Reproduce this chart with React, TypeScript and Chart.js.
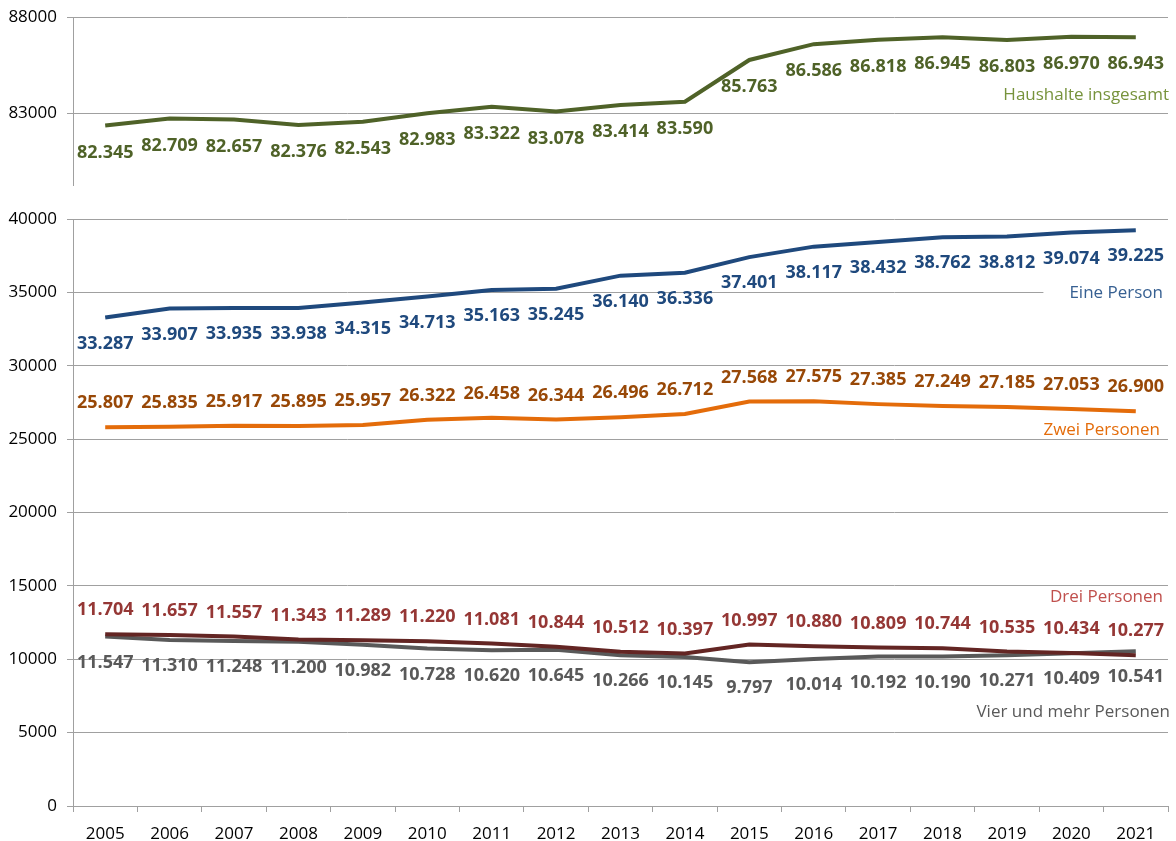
import React, { useEffect, useRef } from "react";
import { Chart, registerables } from "chart.js";

Chart.register(...registerables);

const years = ["2005","2006","2007","2008","2009","2010","2011","2012","2013","2014","2015","2016","2017","2018","2019","2020","2021"];

const haushalteInsgesamt = [82345, 82709, 82657, 82376, 82543, 82983, 83322, 83078, 83414, 83590, 85763, 86586, 86818, 86945, 86803, 86970, 86943];
const einePerson = [33287, 33907, 33935, 33938, 34315, 34713, 35163, 35245, 36140, 36336, 37401, 38117, 38432, 38762, 38812, 39074, 39225];
const zweiPersonen = [25807, 25835, 25917, 25895, 25957, 26322, 26458, 26344, 26496, 26712, 27568, 27575, 27385, 27249, 27185, 27053, 26900];
const dreiPersonen = [11704, 11657, 11557, 11343, 11289, 11220, 11081, 10844, 10512, 10397, 10997, 10880, 10809, 10744, 10535, 10434, 10277];
const vierUndMehr = [11547, 11310, 11248, 11200, 10982, 10728, 10620, 10645, 10266, 10145, 9797, 10014, 10192, 10190, 10271, 10409, 10541];

const topTicks = [83000, 88000];
const bottomTicks = [0, 5000, 10000, 15000, 20000, 25000, 30000, 35000, 40000];

const FONT = "'Open Sans', 'Noto Sans', sans-serif";
const GRID = "#a0a0a0";

function fmt(v: number): string {
  return String(v).replace(/\B(?=(\d{3})+(?!\d))/g, ".");
}

const valueLabelPlugin = {
  id: "valueLabels",
  afterDatasetsDraw(chart: any) {
    const ctx = chart.ctx;
    ctx.save();
    ctx.font = `bold 18px ${FONT}`;
    ctx.textAlign = "center";
    ctx.textBaseline = "middle";
    chart.data.datasets.forEach((ds: any, i: number) => {
      const meta = chart.getDatasetMeta(i);
      ctx.fillStyle = ds.labelColor;
      meta.data.forEach((pt: any, j: number) => {
        ctx.fillText(fmt(ds.data[j]), pt.x, pt.y + ds.labelOffset);
      });
    });
    const names = chart.options.plugins.seriesNames || [];
    const yScale = chart.scales.y;
    names.forEach((n: any) => {
      ctx.font = `17px ${FONT}`;
      ctx.textAlign = "right";
      const y = yScale.getPixelForValue(n.value);
      const x = chart.chartArea.right - n.inset;
      if (n.box) {
        const w = ctx.measureText(n.text).width;
        ctx.fillStyle = "#ffffff";
        ctx.fillRect(x - w - 26, y - 11, w + 32, 22);
      }
      ctx.fillStyle = n.color;
      ctx.fillText(n.text, x, y);
    });
    ctx.restore();
  },
};

export default function App() {
  const topRef = useRef<HTMLCanvasElement>(null);
  const botRef = useRef<HTMLCanvasElement>(null);

  useEffect(() => {
    Chart.defaults.font.family = FONT;
    const line = (data: number[], color: string, labelColor: string, labelOffset: number, order: number) => ({
      data,
      borderColor: color,
      backgroundColor: color,
      borderWidth: 4,
      pointRadius: 0,
      tension: 0,
      labelColor,
      labelOffset,
      order,
    });
    const tickFont = { size: 17, family: FONT };
    const plainTick = (v: any) => String(v);
    const fitY = (s: any) => { s.width = 73; s.paddingTop = 0; s.paddingBottom = 0; };

    const topChart = new Chart(topRef.current!, {
      type: "line",
      data: {
        labels: years,
        datasets: [line(haushalteInsgesamt, "#4f6228", "#4f6228", 27, 0) as any],
      },
      options: {
        animation: false,
        responsive: false,
        layout: { autoPadding: false, padding: { left: 0, right: 8, top: 17, bottom: 15 } },
        plugins: {
          legend: { display: false },
          tooltip: { enabled: false },
          seriesNames: [{ text: "Haushalte insgesamt", value: 83938, color: "#77933c", inset: -1 }],
        } as any,
        scales: {
          x: { display: false, offset: true },
          y: {
            min: 79250,
            max: 88000,
            afterBuildTicks: (s: any) => { s.ticks = topTicks.map((v) => ({ value: v })); },
            afterFit: fitY,
            ticks: { color: "#000", font: tickFont, padding: 10, autoSkip: false, callback: plainTick },
            grid: { color: GRID, lineWidth: 1, tickLength: 6 },
            border: { display: true, color: GRID, width: 1 },
          },
        },
      },
      plugins: [valueLabelPlugin],
    });

    const botChart = new Chart(botRef.current!, {
      type: "line",
      data: {
        labels: years,
        datasets: [
          line(einePerson, "#1f497d", "#1f497d", 26, 4) as any,
          line(zweiPersonen, "#e46c0a", "#984807", -24, 3) as any,
          line(vierUndMehr, "#595959", "#595959", 26, 2) as any,
          line(dreiPersonen, "#632523", "#953735", -24, 1) as any,
        ],
      },
      options: {
        animation: false,
        responsive: false,
        layout: { autoPadding: false, padding: { left: 0, right: 8, top: 19, bottom: 0 } },
        plugins: {
          legend: { display: false },
          tooltip: { enabled: false },
          seriesNames: [
            { text: "Eine Person", value: 34957, color: "#376092", inset: 5, box: true },
            { text: "Zwei Personen", value: 25622, color: "#e46c0a", inset: 8 },
            { text: "Drei Personen", value: 14243, color: "#c0504d", inset: 5 },
            { text: "Vier und mehr Personen", value: 6407, color: "#595959", inset: -2 },
          ],
        } as any,
        scales: {
          x: {
            offset: true,
            afterFit: (s: any) => { s.height = 35; },
            ticks: { color: "#000", font: tickFont, padding: 12, maxRotation: 0, autoSkip: false },
            grid: { offset: true, drawOnChartArea: false, color: GRID, tickLength: 6 },
            border: { display: true, color: GRID, width: 1 },
          },
          y: {
            min: 0,
            max: 40000,
            afterBuildTicks: (s: any) => { s.ticks = bottomTicks.map((v) => ({ value: v })); },
            afterFit: fitY,
            ticks: { color: "#000", font: tickFont, padding: 10, autoSkip: false, callback: plainTick },
            grid: { color: GRID, lineWidth: 1, tickLength: 6 },
            border: { display: true, color: GRID, width: 1 },
          },
        },
      },
      plugins: [valueLabelPlugin],
    });

    return () => {
      topChart.destroy();
      botChart.destroy();
    };
  }, []);

  return (
    <div style={{ position: "absolute", left: 0, top: 0, width: 1176, height: 841, background: "#fff" }}>
      <canvas ref={topRef} width={1176} height={200} style={{ position: "absolute", left: 0, top: 0, width: 1176, height: 200 }} />
      <canvas ref={botRef} width={1176} height={641} style={{ position: "absolute", left: 0, top: 200, width: 1176, height: 641 }} />
    </div>
  );
}
